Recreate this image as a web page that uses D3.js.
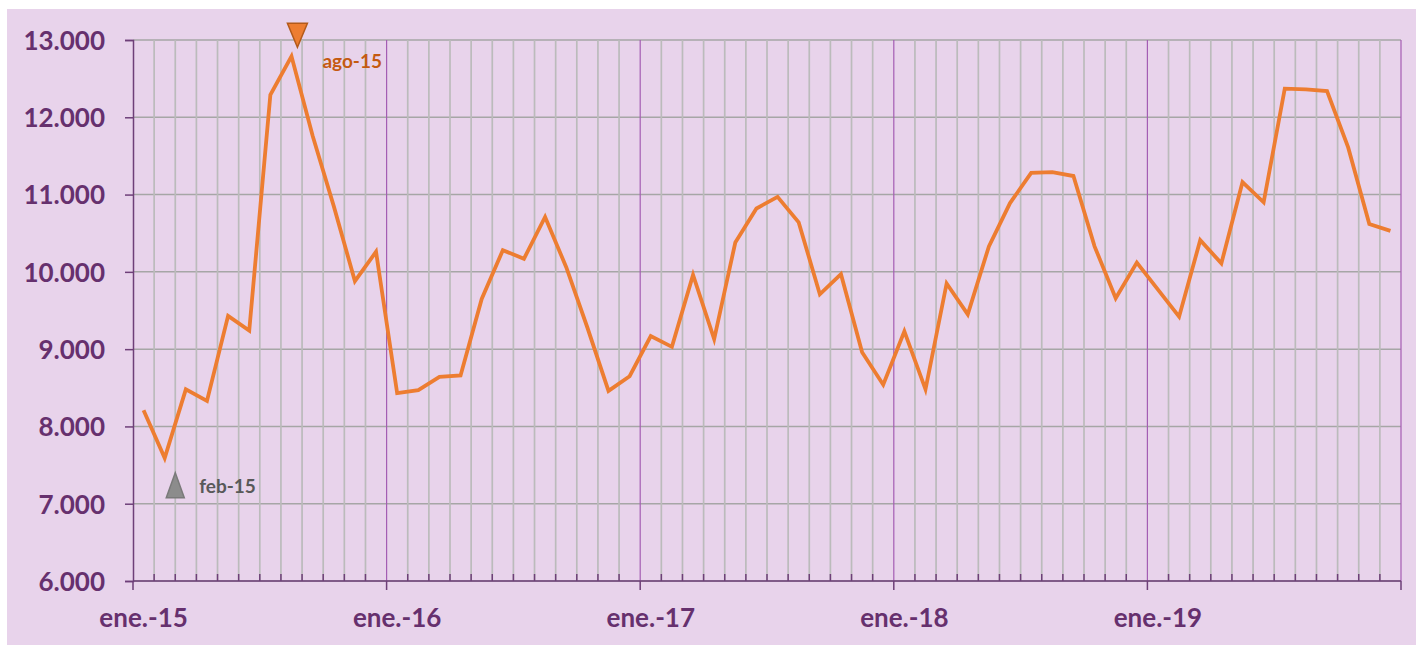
<!DOCTYPE html>
<html lang="es">
<head>
    <meta charset="UTF-8">
    <title>Serie mensual 2015-2019</title>
    <style>
        body{ margin: 0; background: #ffffff; }
        #chart text{ font-family: Lato, "Open Sans", sans-serif; font-weight: 700; }
    </style>
</head>
<body>
    <svg id="chart" width="1416" height="645"></svg>

    <script src="https://cdn.jsdelivr.net/npm/d3@7"></script>
    <script>

        const monthNames = ['ene','feb','mar','abr','may','jun','jul','ago','sep','oct','nov','dic'];
        const years = ['15','16','17','18','19'];

        // valores mensuales, ene-15 .. dic-19
        const values2015 = [8210, 7590, 8480, 8330, 9430, 9240, 12290, 12790, 11760, 10850, 9880, 10260];
        const values2016 = [8430, 8470, 8640, 8660, 9650, 10280, 10170, 10710, 10060, 9280, 8460, 8650];
        const values2017 = [9170, 9030, 9960, 9130, 10380, 10820, 10970, 10640, 9710, 9970, 8960, 8540];
        const values2018 = [9230, 8480, 9850, 9450, 10330, 10890, 11280, 11290, 11240, 10330, 9660, 10120];
        const values2019 = [9770, 9420, 10410, 10110, 11160, 10900, 12370, 12360, 12340, 11610, 10620, 10530];

        const yTicks = [6000, 7000, 8000, 9000, 10000, 11000, 12000, 13000];

        // max / min markers
        const markers = [
            {label: 'ago-15', index: 7, value: 13060, type: 'max'},
            {label: 'feb-15', index: 1, value: 7240, type: 'min'}
        ];

        const values = [].concat(values2015, values2016, values2017, values2018, values2019);
        const labels = [];
        years.forEach(yy => monthNames.forEach(m => labels.push(m + '-' + yy)));

        const svg = d3.select('#chart');
        const mLeft = 133, mRight = 1401, mTop = 40, mBottom = 581;

        const x = d3.scaleLinear().domain([0, values.length]).range([mLeft, mRight]);
        const y = d3.scaleLinear().domain([6000, 13000]).range([mBottom, mTop]);

        const esFormat = d3.formatLocale({decimal: ',', thousands: '.', grouping: [3], currency: ['', '€']}).format(',.0f');

        // panel
        svg.append('rect')
            .attr('x', 7).attr('y', 9)
            .attr('width', 1409).attr('height', 636)
            .attr('fill', '#E8D3EB');

        // horizontal gridlines
        svg.append('g')
            .selectAll('line')
            .data(yTicks)
            .enter()
            .append('line')
            .attr('x1', mLeft).attr('x2', mRight)
            .attr('y1', d => y(d)).attr('y2', d => y(d))
            .attr('stroke', '#A6A6A6')
            .attr('stroke-width', 1.5);

        // vertical gridlines at every month boundary
        const bounds = d3.range(1, values.length + 1);
        svg.append('g')
            .selectAll('line')
            .data(bounds)
            .enter()
            .append('line')
            .attr('x1', d => x(d)).attr('x2', d => x(d))
            .attr('y1', mTop).attr('y2', mBottom)
            .attr('stroke', d => d % 12 === 0 ? '#A45DB3' : '#BBBBBB')
            .attr('stroke-width', d => d % 12 === 0 ? 1.2 : 1.7);

        // y axis
        const yAxis = svg.append('g')
            .attr('transform', `translate(${mLeft},0)`)
            .call(d3.axisLeft(y).tickValues(yTicks).tickFormat(esFormat).tickSize(8).tickPadding(20));
        yAxis.select('.domain').attr('stroke', '#6E3F78').attr('stroke-width', 1.5);
        yAxis.selectAll('.tick line').attr('stroke', '#6E3F78').attr('stroke-width', 1.5);
        yAxis.selectAll('.tick text')
            .attr('fill', '#66306E')
            .style('font-size', '26px')
            .attr('dy', '0.36em');

        // x axis: minor ticks inside, major (year) ticks outside
        const xg = svg.append('g');
        xg.append('line')
            .attr('x1', mLeft).attr('x2', mRight)
            .attr('y1', mBottom).attr('y2', mBottom)
            .attr('stroke', '#6E3F78').attr('stroke-width', 1.5);
        xg.selectAll('.minor')
            .data(bounds.filter(d => d % 12 !== 0))
            .enter()
            .append('line')
            .attr('x1', d => x(d)).attr('x2', d => x(d))
            .attr('y1', mBottom).attr('y2', mBottom - 7)
            .attr('stroke', '#6E3F78').attr('stroke-width', 1.5);
        xg.selectAll('.major')
            .data([0].concat(bounds.filter(d => d % 12 === 0)))
            .enter()
            .append('line')
            .attr('x1', d => x(d)).attr('x2', d => x(d))
            .attr('y1', mBottom).attr('y2', mBottom + 9)
            .attr('stroke', '#6E3F78').attr('stroke-width', 1.5);
        xg.selectAll('text')
            .data(d3.range(0, values.length, 12))
            .enter()
            .append('text')
            .attr('x', d => x(d + 0.5))
            .attr('y', mBottom + 46)
            .attr('text-anchor', 'middle')
            .attr('fill', '#66306E')
            .style('font-size', '26px')
            .text(d => monthNames[d % 12] + '.-' + labels[d].split('-')[1]);

        // line
        const line = d3.line()
            .x((d, i) => x(i + 0.5))
            .y(d => y(d));

        svg.append('path')
            .datum(values)
            .attr('d', line)
            .attr('fill', 'none')
            .attr('stroke', '#ED7D31')
            .attr('stroke-width', 3.8)
            .attr('stroke-linejoin', 'miter');

        // max / min markers
        const mk = svg.append('g');
        markers.forEach(m => {
            const isMax = m.type === 'max';
            const cx = x(m.index + (isMax ? 0.78 : 1.0));
            const cy = y(m.value);
            const w = isMax ? 10 : 9, h = isMax ? 12 : 12.5;
            const pts = isMax
                ? [[cx - w, cy - h], [cx + w, cy - h], [cx, cy + h]]
                : [[cx, cy - h], [cx + w, cy + h], [cx - w, cy + h]];
            mk.append('polygon')
                .attr('points', pts.map(p => p.join(',')).join(' '))
                .attr('fill', isMax ? '#ED7D31' : '#8C8C8C')
                .attr('stroke', isMax ? '#B35A1A' : '#7A7A7A')
                .attr('stroke-width', 1.5);
            mk.append('text')
                .attr('x', cx + (isMax ? 25 : 24))
                .attr('y', cy + (isMax ? 33 : 8))
                .attr('fill', isMax ? '#C55A11' : '#595959')
                .style('font-size', '19px')
                .text(m.label);
        });

    </script>
</body>
</html>
